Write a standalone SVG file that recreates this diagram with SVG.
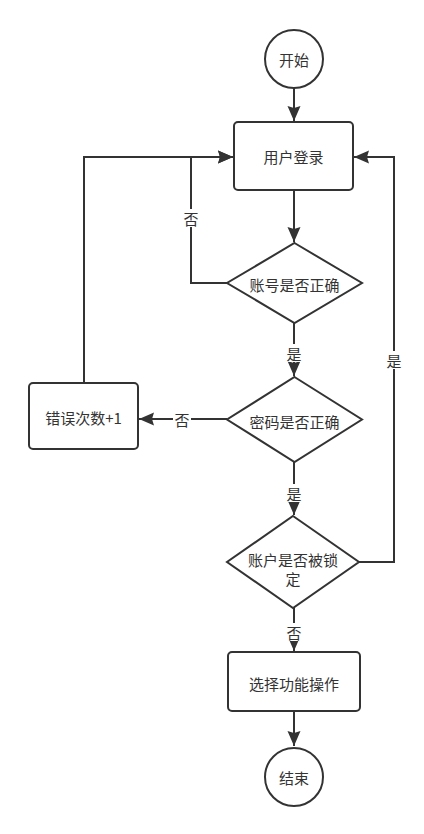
<svg xmlns="http://www.w3.org/2000/svg" width="424" height="834" viewBox="0 0 424 834">
<defs>
<marker id="arr" markerWidth="16" markerHeight="14" refX="15" refY="7" orient="auto" markerUnits="userSpaceOnUse">
<path d="M0,0.5 L15,7 L0,13.5 L2,7 Z" fill="#333"/>
</marker>
<style>
.s{fill:#fff;stroke:#333;stroke-width:2}
.c{fill:none;stroke:#333;stroke-width:2}
.t{font-family:"Noto Sans CJK SC","Noto Sans",sans-serif;font-size:15px;fill:#333;text-anchor:middle;dominant-baseline:central}
.lb{fill:#fff}
</style>
</defs>
<rect width="424" height="834" fill="#fff"/>
<g id="connectors">
<path class="c" d="M294,88 V121" marker-end="url(#arr)"/>
<path class="c" d="M294,190 V242" marker-end="url(#arr)"/>
<path class="c" d="M294,323 V376" marker-end="url(#arr)"/>
<path class="c" d="M294,462 V515" marker-end="url(#arr)"/>
<path class="c" d="M294,608 V651" marker-end="url(#arr)"/>
<path class="c" d="M294,711 V746" marker-end="url(#arr)"/>
<path class="c" d="M227,283 H191 V157 H233" marker-end="url(#arr)"/>
<path class="c" d="M227,419 H139" marker-end="url(#arr)"/>
<path class="c" d="M84,383 V157 H233" marker-end="url(#arr)"/>
<path class="c" d="M359,562 H394 V157 H354" marker-end="url(#arr)"/>
<rect class="lb" x="182" y="209" width="18" height="18"/>
<text class="t" x="191" y="218">否</text>
<rect class="lb" x="285" y="344" width="18" height="18"/>
<text class="t" x="294" y="353">是</text>
<rect class="lb" x="385" y="351" width="18" height="18"/>
<text class="t" x="394" y="360">是</text>
<rect class="lb" x="173" y="410" width="18" height="18"/>
<text class="t" x="182" y="419">否</text>
<rect class="lb" x="285" y="484" width="18" height="18"/>
<text class="t" x="294" y="493">是</text>
<rect class="lb" x="285" y="623" width="18" height="18"/>
<text class="t" x="294" y="632">否</text>
</g>
<g id="start">
<circle class="s" cx="294" cy="59" r="29"/>
<text class="t" x="294" y="59">开始</text>
</g>
<g id="login">
<rect class="s" x="234" y="122" width="119" height="68" rx="4"/>
<text class="t" x="293.5" y="156">用户登录</text>
</g>
<g id="check-account">
<polygon class="s" points="294.5,243 362,283 294.5,323 227,283"/>
<text class="t" x="294.5" y="284">账号是否正确</text>
</g>
<g id="check-password">
<polygon class="s" points="294.5,377 362,419.5 294.5,462 227,419.5"/>
<text class="t" x="294.5" y="421">密码是否正确</text>
</g>
<g id="error-count">
<rect class="s" x="29" y="383" width="109" height="66" rx="4"/>
<text class="t" x="83.5" y="417">错误次数+1</text>
</g>
<g id="check-locked">
<polygon class="s" points="293,516 359,562 293,608 227,562"/>
<text class="t" x="293" y="559">账户是否被锁</text>
<text class="t" x="293" y="578">定</text>
</g>
<g id="select-op">
<rect class="s" x="228" y="652" width="132" height="59" rx="4"/>
<text class="t" x="294" y="683">选择功能操作</text>
</g>
<g id="end">
<circle class="s" cx="294" cy="777" r="29"/>
<text class="t" x="294" y="777">结束</text>
</g>
</svg>
